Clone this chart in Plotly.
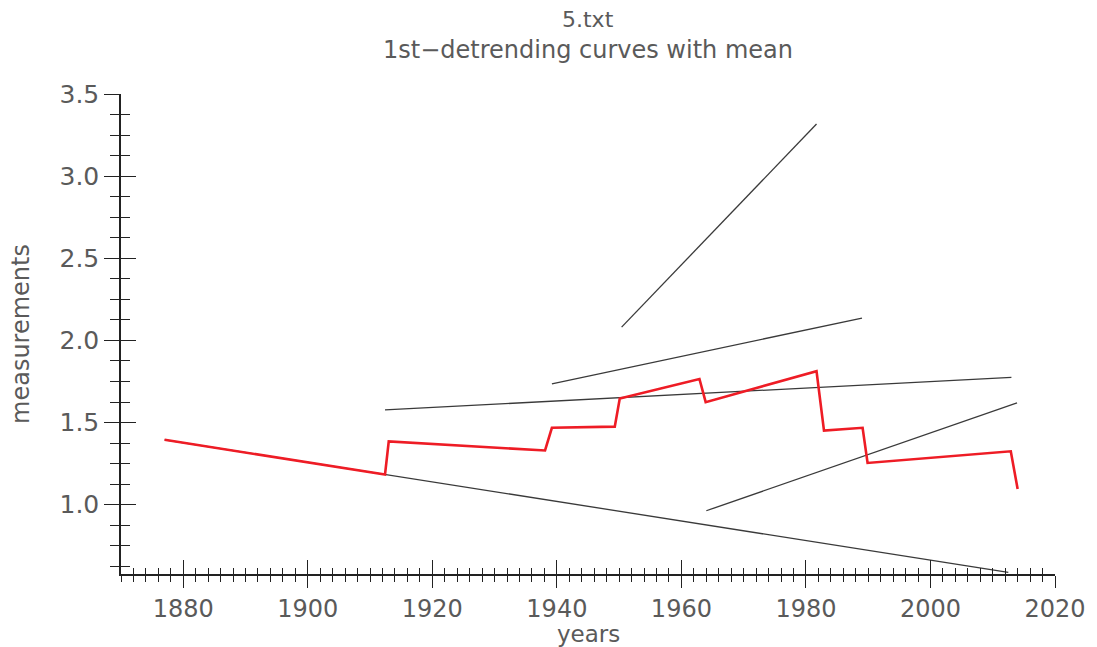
import plotly.graph_objects as go

# Mean curve (vertices of the red step-like line)
mean_years = [1877, 1912.4, 1913, 1938.1, 1939.2, 1949.3, 1950.1, 1962.9, 1963.9,
              1981.7, 1982.9, 1989.1, 1989.9, 2012.9, 2014.0]
mean_vals = [1.395, 1.183, 1.385, 1.330, 1.468, 1.475, 1.646, 1.765, 1.624,
             1.813, 1.451, 1.468, 1.254, 1.325, 1.096]

# Individual detrending curves: (start year, end year), (start value, end value)
curve_years = [
    [1877, 2012.5],
    [1912.4, 2013.0],
    [1939.2, 1989.0],
    [1950.4, 1981.7],
    [1964.0, 2013.9],
]
curve_vals = [
    [1.395, 0.588],
    [1.577, 1.775],
    [1.736, 2.136],
    [2.081, 3.317],
    [0.963, 1.620],
]

x_range = [1870, 2020]
y_range = [0.578, 3.5]

font_family = "DejaVu Sans"
text_color = "#5a5a5a"
axis_color = "#222222"

fig = go.Figure()

for yrs, vals in zip(curve_years, curve_vals):
    fig.add_trace(go.Scatter(x=yrs, y=vals, mode="lines",
                             line=dict(color="#3a3a3a", width=1.3),
                             showlegend=False, hoverinfo="skip"))

fig.add_trace(go.Scatter(x=mean_years, y=mean_vals, mode="lines",
                         line=dict(color="#ee1c25", width=2.6),
                         showlegend=False))

# empty trace on the overlay axes so their inward ticks get drawn
fig.add_trace(go.Scatter(x=[], y=[], xaxis="x2", yaxis="y2", showlegend=False))

common_tick = dict(tickcolor=axis_color, tickwidth=1.4)

fig.update_layout(
    width=1097, height=647,
    paper_bgcolor="white", plot_bgcolor="white",
    margin=dict(l=121, r=42, t=94, b=73),
    font=dict(family=font_family, color=text_color, size=24),
    xaxis=dict(range=x_range, showgrid=False, zeroline=False, automargin=False,
               showline=True, linecolor=axis_color, linewidth=1.5,
               ticks="outside", ticklen=12, tick0=1880, dtick=20,
               minor=dict(ticks="outside", ticklen=6, dtick=2, tick0=1870,
                          tickcolor=axis_color, tickwidth=1.3, showgrid=False),
               tickfont=dict(size=24, color=text_color),
               **common_tick),
    yaxis=dict(range=y_range, showgrid=False, zeroline=False, automargin=False,
               showline=True, linecolor=axis_color, linewidth=1.5,
               ticks="outside", ticklen=15, tick0=1.0, dtick=0.5, tickformat=".1f",
               minor=dict(ticks="outside", ticklen=9, dtick=0.125, tick0=1.0,
                          tickcolor=axis_color, tickwidth=1.3, showgrid=False),
               tickfont=dict(size=25, color=text_color),
               title=dict(text="measurements", font=dict(size=24, color=text_color), standoff=23),
               **common_tick),
    xaxis2=dict(range=x_range, overlaying="x", anchor="y", side="bottom",
                showgrid=False, zeroline=False, showline=False, showticklabels=False,
                ticks="inside", ticklen=14, tick0=1880, dtick=20, automargin=False,
                minor=dict(ticks="inside", ticklen=6, dtick=2, tick0=1870,
                           tickcolor=axis_color, tickwidth=1.3, showgrid=False),
                **common_tick),
    yaxis2=dict(range=y_range, overlaying="y", anchor="x", side="left",
                showgrid=False, zeroline=False, showline=False, showticklabels=False,
                ticks="inside", ticklen=15, tick0=1.0, dtick=0.5, automargin=False,
                minor=dict(ticks="inside", ticklen=9, dtick=0.125, tick0=1.0,
                           tickcolor=axis_color, tickwidth=1.3, showgrid=False),
                **common_tick),
)

# place the title lines and the x-axis title in pixel terms
plot_h = 647 - 94 - 73
def paper_y(px):
    return (647 - 73 - px) / plot_h

fig.add_annotation(text="5.txt", x=0.5, xref="paper", y=paper_y(19), yref="paper",
                   yanchor="middle", showarrow=False, font=dict(size=22, color=text_color))
fig.add_annotation(text="1st\u2212detrending curves with mean", x=0.5, xref="paper",
                   y=paper_y(50), yref="paper", yanchor="middle", showarrow=False,
                   font=dict(size=24, color=text_color))
fig.add_annotation(text="years", x=0.5, xref="paper", y=paper_y(634), yref="paper",
                   yanchor="middle", showarrow=False, font=dict(size=23, color=text_color))

fig.write_html("out.html")
